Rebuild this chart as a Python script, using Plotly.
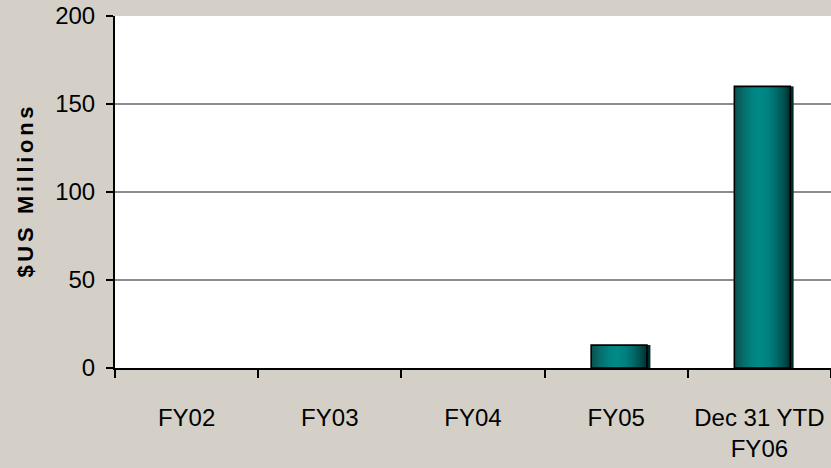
import plotly.graph_objects as go

# Fiscal-year categories and reported amounts ($US millions)
categories = ["FY02", "FY03", "FY04", "FY05", "Dec 31 YTD<br>FY06"]
amounts = [0, 0, 0, 13, 160]
y_ticks = [0, 50, 100, 150, 200]

BAR_WIDTH = 0.4      # in category units
BAR_SHIFT = 0.025    # bars sit slightly right of the category centre
N_STRIPES = 28

# Horizontal shading profile of the cylinder-like bars (position, rgb)
shade_stops = [
    (0.00, (12, 80, 78)),
    (0.15, (6, 108, 106)),
    (0.32, (1, 132, 130)),
    (0.45, (0, 138, 136)),
    (0.60, (0, 128, 126)),
    (0.75, (0, 104, 102)),
    (0.90, (0, 70, 70)),
    (1.00, (0, 36, 36)),
]


def shade(t):
    for (t0, c0), (t1, c1) in zip(shade_stops, shade_stops[1:]):
        if t0 <= t <= t1:
            f = (t - t0) / (t1 - t0)
            r, g, b = (round(a + (b_ - a) * f) for a, b_ in zip(c0, c1))
            return f"rgb({r},{g},{b})"
    return "rgb(0,36,36)"


# empty years get no bar outline
drawn = [v if v else None for v in amounts]

fig = go.Figure()

left = -BAR_WIDTH / 2 + BAR_SHIFT

# drop shadow offset to the lower right
fig.add_trace(go.Bar(
    x=categories, y=drawn, width=BAR_WIDTH, offset=left + 0.014,
    marker=dict(color="rgb(0,50,50)", line=dict(width=0)),
    hoverinfo="skip", showlegend=False,
))

# shaded body built from narrow vertical stripes
step = BAR_WIDTH / N_STRIPES
for i in range(N_STRIPES):
    fig.add_trace(go.Bar(
        x=categories, y=drawn, width=step * 1.6, offset=left + i * step,
        marker=dict(color=shade((i + 0.5) / N_STRIPES), line=dict(width=0)),
        hoverinfo="skip", showlegend=False,
    ))

# black outline
fig.add_trace(go.Bar(
    x=categories, y=drawn, width=BAR_WIDTH - 0.01, offset=left,
    marker=dict(color="rgba(0,0,0,0)", line=dict(color="black", width=1.6)),
    showlegend=False,
))

tick_font = dict(family="Liberation Sans, Arial", size=24, color="black")

# letter-spaced axis title
y_title = "\u2006".join("$US") + "\u2006\u00a0\u2006" + "\u2006".join("Millions")

fig.update_layout(
    width=831, height=468,
    margin=dict(l=115, r=0, t=16, b=100),
    paper_bgcolor="#D4D0C8",
    plot_bgcolor="white",
    barmode="overlay",
    xaxis=dict(
        type="category",
        tickson="boundaries",
        ticks="outside", ticklen=8, tickwidth=2, tickcolor="black",
        showline=True, linecolor="black", linewidth=2,
        showgrid=False, zeroline=False,
        tickfont=tick_font,
        tickangle=0,
        automargin=False,
        ticklabelstandoff=27,
        range=[-0.5, 4.5],
    ),
    yaxis=dict(
        range=[0, 200],
        tickvals=y_ticks,
        ticks="outside", ticklen=7, tickwidth=2, tickcolor="black",
        showline=True, linecolor="black", linewidth=2,
        showgrid=True, gridcolor="#8c8c8c", gridwidth=1.5,
        zeroline=False,
        automargin=False,
        tickfont=tick_font,
        ticklabelstandoff=6,
        title=dict(
            text=y_title,
            font=dict(family="Liberation Sans, Arial", size=22, color="black", weight="bold"),
            standoff=15,
        ),
    ),
)

fig.write_html("out.html")
